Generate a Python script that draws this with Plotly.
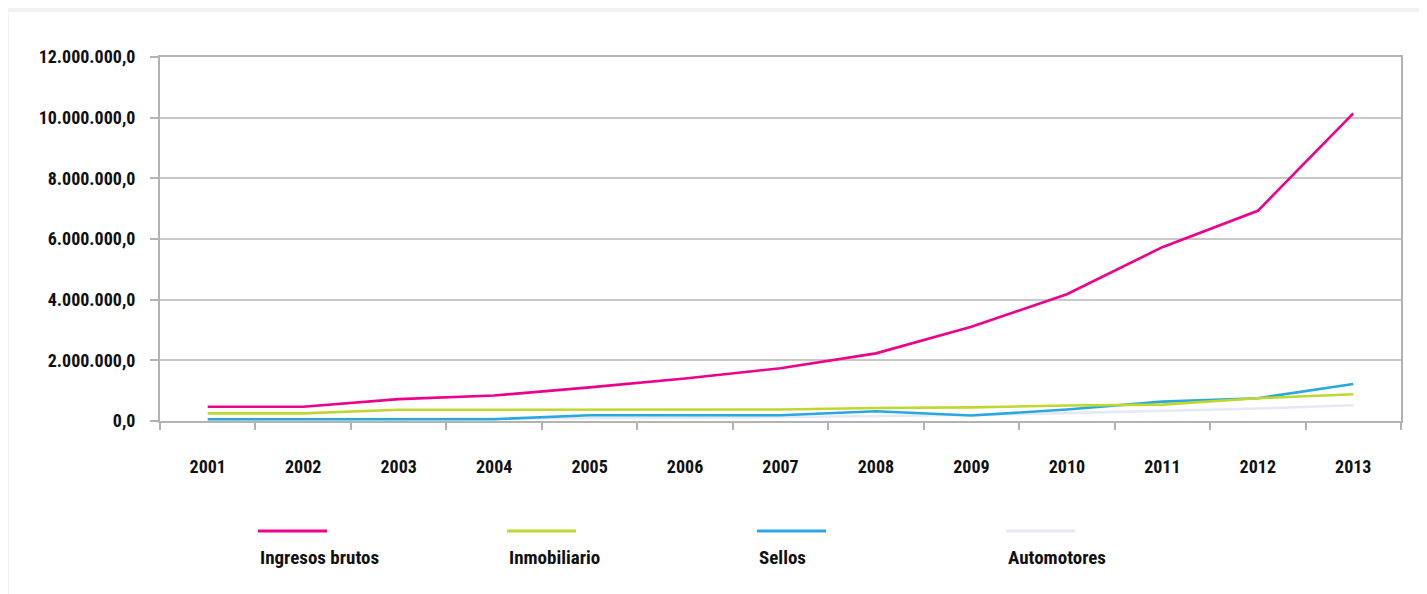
import plotly.graph_objects as go

years = ["2001", "2002", "2003", "2004", "2005", "2006", "2007",
         "2008", "2009", "2010", "2011", "2012", "2013"]
ingresos_brutos = [470000, 470000, 720000, 840000, 1110000, 1400000, 1740000,
                   2230000, 3110000, 4180000, 5730000, 6930000, 10140000]
inmobiliario = [250000, 250000, 370000, 370000, 370000, 370000, 380000,
                430000, 450000, 510000, 540000, 750000, 880000]
sellos = [60000, 60000, 60000, 60000, 190000, 190000, 190000,
          320000, 180000, 380000, 640000, 750000, 1220000]
automotores = [40000, 50000, 60000, 70000, 90000, 110000, 130000,
               160000, 200000, 260000, 340000, 410000, 520000]

series_names = ["Ingresos brutos", "Inmobiliario", "Sellos", "Automotores"]
series_values = [ingresos_brutos, inmobiliario, sellos, automotores]
series_colors = ["#ec008c", "#c0d72f", "#29a8e0", "#e6e9f5"]

FONT = ("'Liberation Sans Narrow', 'Roboto Condensed', 'DejaVu Sans Condensed', "
        "'Arial Narrow', 'Liberation Sans', sans-serif")

W, H = 1427, 594
OFF = 8  # page body margin shifts the figure by this many pixels
# desired on-screen plot box: left 160, right 1401, top 57, bottom 421
L = 160 - OFF
T = 57 - OFF
R = W - (1401 - OFF)
B = H - (421 - OFF)

fig = go.Figure()
# draw from last to first so Ingresos brutos sits on top
for name, vals, col in reversed(list(zip(series_names, series_values, series_colors))):
    fig.add_trace(go.Scatter(x=years, y=vals, name=name, mode="lines",
                             line=dict(color=col, width=2.6), showlegend=False))

pw = W - L - R
ph = H - T - B

def px_x(px):
    return (px - OFF - L) / pw

def px_y(py):
    return 1 - (py - OFF - T) / ph

shapes = [
    dict(type="rect", xref="paper", yref="paper", layer="below",
         x0=px_x(9), x1=px_x(W + 20), y0=px_y(H + 20), y1=px_y(12),
         fillcolor="white", line=dict(width=0)),
]
annotations = []
leg_x = [258, 507, 757, 1006]
for name, col, lx in zip(series_names, series_colors, leg_x):
    shapes.append(dict(type="line", xref="paper", yref="paper",
                       x0=px_x(lx), x1=px_x(lx + 69), y0=px_y(531), y1=px_y(531),
                       line=dict(color=col, width=3)))
    annotations.append(dict(text=name, xref="paper", yref="paper",
                            x=px_x(lx), y=px_y(557), xanchor="left", yanchor="middle",
                            showarrow=False,
                            font=dict(family=FONT, size=19, color="#111111", weight="bold")))

fig.update_layout(
    width=W, height=H,
    margin=dict(l=L, r=R, t=T, b=B, autoexpand=False),
    paper_bgcolor="#f3f0ed",
    plot_bgcolor="white",
    separators=",.",
    shapes=shapes,
    annotations=annotations,
    xaxis=dict(type="category", range=[-0.5, 12.5], automargin=False,
               showgrid=False, showline=True, linecolor="#b3b3b3", linewidth=2,
               mirror=True, ticks="outside", tickson="boundaries", ticklen=7,
               tickcolor="#b3b3b3", tickwidth=2, ticklabelstandoff=28,
               tickfont=dict(family=FONT, size=18, color="#111111", weight="bold"),
               zeroline=False),
    yaxis=dict(range=[0, 12000000], dtick=2000000, tickformat=",.1f", automargin=False,
               showgrid=True, gridcolor="#c8c8c8", gridwidth=2,
               showline=True, linecolor="#b3b3b3", linewidth=2, mirror=True,
               ticks="outside", ticklen=8, tickcolor="#b3b3b3", tickwidth=2,
               ticklabelstandoff=11, zeroline=False,
               tickfont=dict(family=FONT, size=18, color="#111111", weight="bold")),
)

fig.write_html("out.html")
